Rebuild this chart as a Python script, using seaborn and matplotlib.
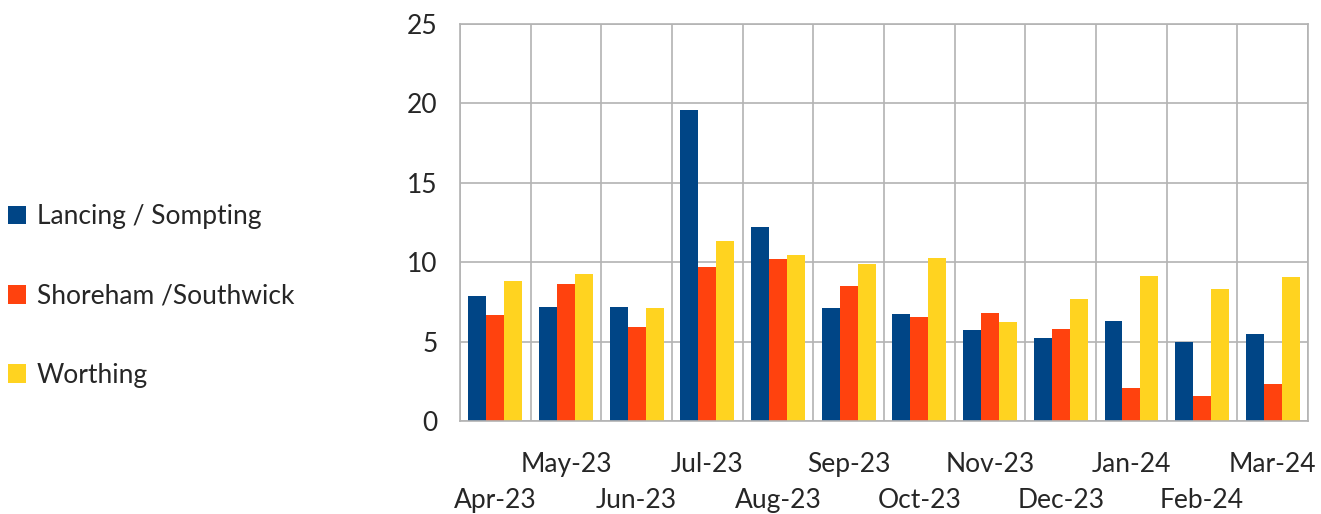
import matplotlib.pyplot as plt
import matplotlib.ticker as mticker
import pandas as pd
import seaborn as sns

months = ["Apr-23", "May-23", "Jun-23", "Jul-23", "Aug-23", "Sep-23",
          "Oct-23", "Nov-23", "Dec-23", "Jan-24", "Feb-24", "Mar-24"]
lancing = [7.9, 7.2, 7.2, 19.6, 12.2, 7.1, 6.75, 5.75, 5.2, 6.3, 4.95, 5.5]
shoreham = [6.7, 8.6, 5.9, 9.7, 10.2, 8.5, 6.55, 6.8, 5.8, 2.05, 1.6, 2.35]
worthing = [8.8, 9.25, 7.1, 11.35, 10.45, 9.9, 10.25, 6.25, 7.7, 9.15, 8.3, 9.1]
series_names = ["Lancing / Sompting", "Shoreham /Southwick", "Worthing"]
colors = ["#004586", "#ff420e", "#ffd320"]

df = pd.DataFrame({
    "month": months * 3,
    "value": lancing + shoreham + worthing,
    "area": [n for n in series_names for _ in months],
})

sns.set_theme(style="white")
plt.rcParams["font.family"] = ["Lato", "DejaVu Sans"]

fig = plt.figure(figsize=(13.21, 5.14), dpi=100)
ax = fig.add_axes([0.3482, 0.1809, 0.6420, 0.7724])

sns.barplot(data=df, x="month", y="value", hue="area", order=months,
            hue_order=series_names, palette=colors, width=0.76,
            saturation=1, linewidth=0, ax=ax, legend=True)

grid_c = "#b3b3b3"
fs = 19
ax.set_xlim(-0.5, len(months) - 0.5)
ax.set_ylim(0, 25)
ax.yaxis.set_major_locator(mticker.MultipleLocator(5))
ax.tick_params(axis="y", labelsize=fs, color=grid_c, length=8, width=1.2, pad=8)

# category boundaries as major ticks (grid + tick marks)
ax.set_xticks([i - 0.5 for i in range(len(months) + 1)])
ax.set_xticklabels([])
ax.tick_params(axis="x", which="major", color=grid_c, length=14, width=1.2)

# staggered labels: odd months on the upper row, even months on a lower row
odd = list(range(1, len(months), 2))
even = list(range(0, len(months), 2))
ax.set_xticks(odd, minor=True)
ax.set_xticklabels([months[i] for i in odd], minor=True, fontsize=fs)
ax.tick_params(axis="x", which="minor", length=0, pad=22)

low = ax.secondary_xaxis("bottom")
low.set_xticks(even)
low.set_xticklabels([months[i] for i in even], fontsize=fs)
low.tick_params(axis="x", length=0, pad=48)
low.spines["bottom"].set_visible(False)

ax.grid(True, which="major", color=grid_c, linewidth=1.2)
ax.set_axisbelow(True)
for s in ax.spines.values():
    s.set_color(grid_c)
    s.set_linewidth(1.2)
ax.set_xlabel("")
ax.set_ylabel("")

handles, labels = ax.get_legend_handles_labels()
ax.get_legend().remove()
fig.legend(handles, labels, loc="center left", bbox_to_anchor=(0.0, 0.424),
           frameon=False, fontsize=fs, handlelength=0.7, handleheight=0.7,
           handletextpad=0.4, labelspacing=2.05, borderaxespad=0.0,
           borderpad=0.3)

fig.savefig("out.png", dpi=100)
